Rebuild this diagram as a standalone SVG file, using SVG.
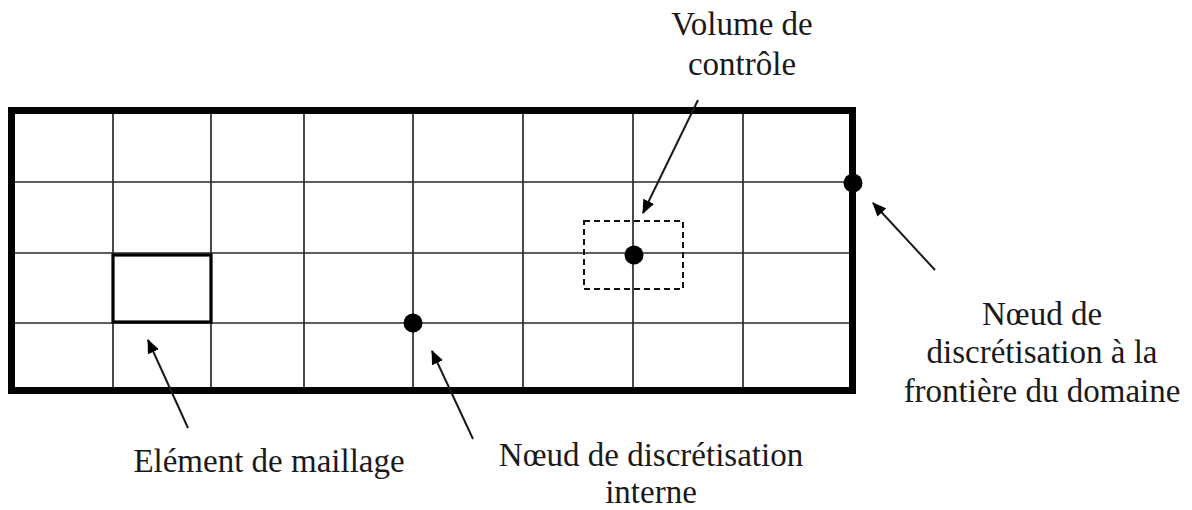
<svg xmlns="http://www.w3.org/2000/svg" width="1192" height="510" viewBox="0 0 1192 510">
  <style>
    .grid { stroke: #2a2a2a; stroke-width: 1.7; fill: none; }
    .frame { stroke: #000; stroke-width: 7; fill: none; }
    .elem { stroke: #000; stroke-width: 3.2; fill: none; }
    .cv { stroke: #111; stroke-width: 2; fill: none; stroke-dasharray: 6 4; }
    .node { fill: #000; }
    .arrow { stroke: #1a1a1a; stroke-width: 2; fill: none; marker-end: url(#head); }
    .label { font-family: "Liberation Serif", "Times New Roman", serif; font-size: 33px; fill: #1a1a1a; text-anchor: middle; }
  </style>
  <defs>
    <marker id="head" viewBox="0 0 14 12" refX="13" refY="6" markerWidth="14" markerHeight="12" markerUnits="userSpaceOnUse" orient="auto">
      <path d="M0,0 L14,6 L0,12 Z" fill="#000"/>
    </marker>
  </defs>
  <rect width="1192" height="510" fill="#fff"/>

  <!-- computational domain: mesh lines and boundary -->
  <g id="mesh">
    <path class="grid" d="M113,110V391 M211,110V391 M304,110V391 M413,110V391 M523,110V391 M633,110V391 M743,110V391"/>
    <path class="grid" d="M11,182H853 M11,253H853 M11,323H853"/>
    <rect class="frame" x="11.5" y="110.5" width="841" height="280"/>
  </g>

  <g id="mesh-element">
    <rect class="elem" x="113" y="255" width="98" height="67"/>
  </g>

  <g id="control-volume">
    <rect class="cv" x="584" y="221" width="99" height="68"/>
    <circle class="node" cx="634" cy="255" r="9.5"/>
  </g>

  <g id="internal-node">
    <circle class="node" cx="413" cy="323" r="9.5"/>
  </g>

  <g id="boundary-node">
    <circle class="node" cx="853" cy="183" r="9.5"/>
  </g>

  <!-- pointer arrows from labels -->
  <g id="connectors">
    <line class="arrow" x1="698" y1="100" x2="643" y2="213"/>
    <line class="arrow" x1="935" y1="270" x2="873" y2="203"/>
    <line class="arrow" x1="188" y1="428" x2="148" y2="340"/>
    <line class="arrow" x1="473" y1="439" x2="432" y2="351"/>
  </g>

  <g id="labels">
    <text class="label" x="742" y="35">Volume de</text>
    <text class="label" x="742" y="75">contrôle</text>
    <text class="label" x="1042" y="325">Nœud de</text>
    <text class="label" x="1042" y="363">discrétisation à la</text>
    <text class="label" x="1042" y="402">frontière du domaine</text>
    <text class="label" x="269" y="472">Elément de maillage</text>
    <text class="label" x="651" y="466">Nœud de discrétisation</text>
    <text class="label" x="651" y="503">interne</text>
  </g>
</svg>
